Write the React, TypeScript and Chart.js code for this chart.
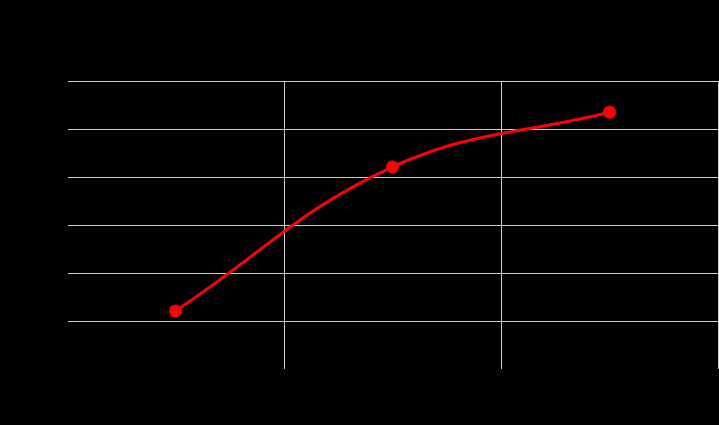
import React, { useEffect, useRef } from "react";
import { Chart, registerables } from "chart.js";

Chart.register(...registerables);

const xValues = [0.5, 1.5, 2.5];
const seriesValues = [12.1, 42.1, 53.5];
const xTicks = [0, 1, 2, 3];
const yTicks = [0, 10, 20, 30, 40, 50, 60];

export default function App() {
  const ref = useRef<HTMLCanvasElement | null>(null);

  useEffect(() => {
    if (!ref.current) return;
    const chart = new Chart(ref.current, {
      type: "line",
      data: {
        datasets: [
          {
            label: "Series",
            data: xValues.map((x, i) => ({ x, y: seriesValues[i] })),
            borderColor: "#ff0000",
            backgroundColor: "#ff0000",
            borderWidth: 3,
            pointRadius: 5,
            pointBackgroundColor: "#ff0000",
            pointBorderColor: "#ff0000",
            tension: 0.4,
            fill: false,
          },
        ],
      },
      options: {
        animation: false,
        responsive: false,
        maintainAspectRatio: false,
        layout: { padding: { top: 81, right: 0, left: 0, bottom: 0 } },
        plugins: { legend: { display: false }, tooltip: { enabled: false } },
        scales: {
          x: {
            type: "linear",
            min: xTicks[0],
            max: xTicks[xTicks.length - 1],
            afterFit: (s: any) => {
              s.height = 56;
            },
            afterBuildTicks: (s: any) => {
              s.ticks = xTicks.map((v) => ({ value: v }));
            },
            grid: {
              color: (c: any) => (c.index === 0 ? "rgba(0,0,0,0)" : "#cccccc"),
              drawTicks: false,
              lineWidth: 1,
            },
            border: { display: true, color: "#000000" },
            ticks: { color: "#000000", font: { size: 11 }, padding: 3 },
          },
          y: {
            min: yTicks[0],
            max: yTicks[yTicks.length - 1],
            afterFit: (s: any) => {
              s.width = 67;
            },
            afterBuildTicks: (s: any) => {
              s.ticks = yTicks.map((v) => ({ value: v }));
            },
            grid: {
              color: (c: any) => (c.index === 0 ? "rgba(0,0,0,0)" : "#cccccc"),
              drawTicks: false,
              lineWidth: 1,
            },
            border: { display: true, color: "#000000" },
            ticks: { color: "#000000", font: { size: 11 }, padding: 3 },
          },
        },
      },
    });
    return () => chart.destroy();
  }, []);

  return (
    <div
      style={{
        position: "absolute",
        left: 0,
        top: 0,
        width: 719,
        height: 425,
        overflow: "hidden",
        background: "#000000",
      }}
    >
      <canvas ref={ref} width={726} height={425} style={{ display: "block" }} />
    </div>
  );
}
